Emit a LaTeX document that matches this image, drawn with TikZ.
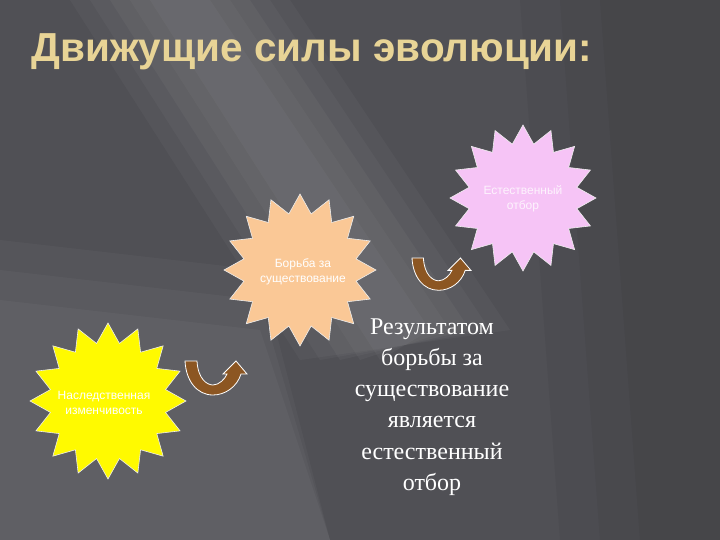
\documentclass[tikz,border=0pt]{standalone}
\usepackage{fontspec}
\setmainfont{Liberation Serif}
\newfontfamily\arialfont{Liberation Sans}
\usetikzlibrary{shapes.geometric}
\definecolor{slidebg}{RGB}{80,80,85}
\definecolor{titlegold}{RGB}{232,212,150}
\definecolor{arrowbrown}{RGB}{140,86,34}
\definecolor{starpink}{RGB}{246,196,246}
\definecolor{starpeach}{RGB}{250,200,150}
\definecolor{staryellow}{RGB}{255,250,0}
\tikzset{
	burst/.style={star,star points=16,star point ratio=1.33,minimum size=#1,
		inner sep=0pt,draw=white!85!gray,line width=0.6pt},
	bursttext/.style={font=\arialfont\fontsize{12}{14.5}\selectfont,align=center,text=white},
	uturn/.pic={
		\filldraw[fill=arrowbrown,draw=white,line width=0.8pt]
			(0,0) -- (12,0) .. controls (13,18) and (22,24) .. (28,24)
			.. controls (34,24) and (40,18) .. (42,13) -- (38,13) -- (51,0)
			-- (62,13) -- (56,13) .. controls (52,26) and (40,34) .. (28,34)
			.. controls (12,34) and (1,20) .. (0,0) -- cycle;
	}
}
\begin{document}
\begin{tikzpicture}[x=1pt,y=-1pt]
	\useasboundingbox (0,0) rectangle (720,540);
	% background
	\fill[slidebg] (0,0) rectangle (720,540);
	\foreach \w/\o in {0/0.035,20/0.035,40/0.035,60/0.03,80/0.03}
		\fill[white,opacity=\o] (150-\w,0) -- (210+\w,0) -- (430+\w,330) -- (380-\w,360) -- cycle;
	\foreach \w in {0,30,60}
		\fill[white,opacity=0.03] (0,300-\w) -- (260,330-\w) -- (330,540) -- (0,540) -- cycle;
	\foreach \w in {0,40,80}
		\fill[black,opacity=0.04] (600-\w,0) -- (720,0) -- (720,540) -- (640-\w,540) -- cycle;
	% title
	\node[anchor=base west,text=titlegold,font=\arialfont\bfseries\fontsize{40.5}{42}\selectfont] (title) at (28,62) {Движущие силы эволюции:};
	% stars
	\node[burst=146pt,fill=starpink] (selection) at (523,198) {};
	\node[bursttext,text=white!80!starpink] (selectiontext) at (523,199) {Естественный\\отбор};
	\node[burst=152pt,fill=starpeach] (struggle) at (300,270) {};
	\node[bursttext] (struggletext) at (303,272) {Борьба за\\существование};
	\node[burst=156pt,fill=staryellow] (variation) at (108,401) {};
	\node[bursttext] (variationtext) at (104,403) {Наследственная\\изменчивость};
	% arrows
	\pic at (185,361) {uturn};
	\pic[scale=0.95] at (412,258) {uturn};
	% result
	\node[align=center,text=white,font=\fontsize{24}{31.2}\selectfont] (result) at (432,407)
		{Результатом\\борьбы за\\существование\\является\\естественный\\отбор};
\end{tikzpicture}
\end{document}
